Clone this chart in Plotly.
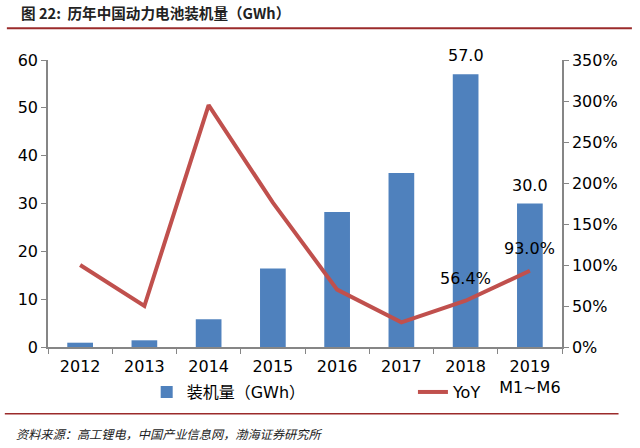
import plotly.graph_objects as go

years = ["2012", "2013", "2014", "2015", "2016", "2017", "2018", "2019<br>M1~M6"]
installed_gwh = [0.9, 1.4, 5.8, 16.4, 28.2, 36.4, 57.0, 30.0]
yoy = [1.00, 0.50, 2.95, 1.76, 0.70, 0.30, 0.564, 0.930]
bar_labels = {6: "57.0", 7: "30.0"}
yoy_labels = {6: "56.4%", 7: "93.0%"}

FONT = "DejaVu Sans, Noto Sans CJK SC, sans-serif"
CJK = "Noto Sans CJK SC, sans-serif"

fig = go.Figure()
fig.add_trace(go.Bar(
    x=years, y=installed_gwh, name="装机量（GWh）",
    marker=dict(color="#4F81BD", line=dict(width=0)), width=0.4,
    yaxis="y", legend="legend",
))
fig.add_trace(go.Scatter(
    x=years, y=yoy, name="YoY", mode="lines",
    line=dict(color="#C0504D", width=4), yaxis="y2", legend="legend2",
))

annotations = []
for i, t in bar_labels.items():
    annotations.append(dict(x=i, y=installed_gwh[i], xref="x", yref="y",
                            text=t, showarrow=False, yanchor="bottom", yshift=7,
                            font=dict(size=16, color="#000", family=FONT)))
for i, t in yoy_labels.items():
    annotations.append(dict(x=i, y=yoy[i], xref="x", yref="y2",
                            text=t, showarrow=False, yanchor="middle", yshift=22,
                            font=dict(size=16, color="#000", family=FONT)))

annotations.append(dict(x=-0.056, y=1.165, xref="paper", yref="paper",
                        text="<b>图 22:  历年中国动力电池装机量（GWh）</b>",
                        showarrow=False, xanchor="left", yanchor="middle",
                        font=dict(size=14.6, color="#222", family=CJK)))
annotations.append(dict(x=-0.066, y=-0.303, xref="paper", yref="paper",
                        text="<i>资料来源：高工锂电，中国产业信息网，渤海证券研究所</i>",
                        showarrow=False, xanchor="left", yanchor="middle",
                        font=dict(size=12.2, color="#222", family=CJK)))

shapes = [
    dict(type="line", xref="paper", yref="paper", x0=-0.08, x1=1.136, y0=1.111, y1=1.111,
         line=dict(color="#9B2B2B", width=2)),
    dict(type="line", xref="paper", yref="paper", x0=-0.084, x1=1.11, y0=-0.233, y1=-0.233,
         line=dict(color="#9B2B2B", width=1.5)),
]

legend_common = dict(orientation="h", y=-0.157, xanchor="left", yanchor="middle",
                     font=dict(size=16, family=FONT), bgcolor="rgba(0,0,0,0)")

fig.update_layout(
    width=640, height=448,
    margin=dict(l=48, r=78, t=60, b=101, autoexpand=False),
    paper_bgcolor="white", plot_bgcolor="white",
    font=dict(family=FONT, size=16, color="#000"),
    showlegend=True,
    xaxis=dict(type="category", range=[-0.5, 7.5], showline=True, linecolor="#868686",
               linewidth=1.5, ticks="outside", ticklen=5, tickcolor="#868686",
               tickson="boundaries", showgrid=False, tickangle=0, ticklabelstandoff=4,
               tickfont=dict(size=16, family=FONT)),
    yaxis=dict(range=[0, 60], dtick=10, showline=True, linecolor="#868686", linewidth=1.5,
               ticks="outside", ticklen=5, tickcolor="#868686", showgrid=False,
               zeroline=False, tickfont=dict(size=16, family=FONT)),
    yaxis2=dict(range=[0, 3.5], dtick=0.5, tickformat=".0%", overlaying="y", side="right",
                showline=True, linecolor="#868686", linewidth=1.5, ticks="outside",
                ticklen=5, tickcolor="#868686", showgrid=False, zeroline=False,
                tickfont=dict(size=16, family=FONT)),
    legend=dict(x=0.192, visible=True, **legend_common),
    legend2=dict(x=0.71, visible=True, **legend_common),
    annotations=annotations, shapes=shapes,
)

fig.write_html("out.html", config={"displayModeBar": False},
               post_script="document.body.style.margin='0';")
